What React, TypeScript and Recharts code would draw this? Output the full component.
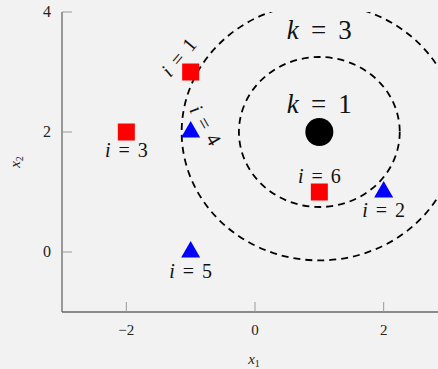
import React from 'react';
import {
  ComposedChart, Scatter, XAxis, YAxis, ReferenceArea,
} from 'recharts';

// class A (red squares) and class B (blue triangles)
const redX = [-1, -2, 1];
const redY = [3, 2, 1];
const redIdx = [1, 3, 6];

const blueX = [-1, -1, 2];
const blueY = [2, 0, 1];
const blueIdx = [4, 5, 2];

const centerX = [1];
const centerY = [2];

const radii = [1.25, 2.14];
const kValues = [1, 3];

const xDomain = [-3, 3];
const yDomain = [-1, 4];
const xTicks = [-2, 0, 2];
const yTicks = [0, 2, 4];

const redData = redX.map((x, i) => ({ x, y: redY[i], idx: redIdx[i] }));
const blueData = blueX.map((x, i) => ({ x, y: blueY[i], idx: blueIdx[i] }));
const centerData = centerX.map((x, i) => ({ x, y: centerY[i] }));

const FONT = '"Liberation Serif", "DejaVu Serif", serif';

// where each "i = n" label sits relative to its marker
const labelPos: Record<number, { dx: number; dy: number; rot: number }> = {
  1: { dx: -12, dy: -15, rot: -50 },
  2: { dx: 0, dy: 18, rot: 0 },
  3: { dx: 0, dy: 18, rot: 0 },
  4: { dx: 15, dy: -7, rot: 60 },
  5: { dx: 0, dy: 19, rot: 0 },
  6: { dx: 0, dy: -16, rot: 0 },
};

const MathEq = ({ x, y, v, sym, size, gap, rot = 0 }: any) => (
  <text
    x={x}
    y={y}
    textAnchor="middle"
    dominantBaseline="central"
    fontFamily={FONT}
    style={{ fontFamily: FONT, fontSize: size }}
    fill="#111"
    transform={rot ? `rotate(${rot} ${x} ${y})` : undefined}
  >
    <tspan style={{ fontStyle: 'italic' }}>{sym}</tspan>
    <tspan dx={size * gap}>=</tspan>
    <tspan dx={size * gap}>{v}</tspan>
  </text>
);

const IdxLabel = ({ cx, cy, idx }: any) => {
  const p = labelPos[idx];
  return <MathEq x={cx + p.dx} y={cy + p.dy} v={idx} sym="i" size={20} gap={0.4} rot={p.rot} />;
};

const SquareShape = (props: any) => {
  const { cx, cy, payload } = props;
  const s = 17;
  return (
    <g>
      <rect x={cx - s / 2} y={cy - s / 2} width={s} height={s} fill="#ff0000" />
      <IdxLabel cx={cx} cy={cy} idx={payload.idx} />
    </g>
  );
};

const TriangleShape = (props: any) => {
  const { cx, cy, payload } = props;
  const r = 11;
  const pts = `${cx},${cy - r} ${cx - r * 0.866},${cy + r / 2} ${cx + r * 0.866},${cy + r / 2}`;
  return (
    <g>
      <polygon points={pts} fill="#0000ff" />
      <IdxLabel cx={cx} cy={cy} idx={payload.idx} />
    </g>
  );
};

const CenterShape = (props: any) => {
  const { cx, cy } = props;
  return (
    <g>
      <circle cx={cx} cy={cy} r={14} fill="#000" />
      <MathEq x={cx} y={cy - 28} v={kValues[0]} sym="k" size={27} gap={0.45} />
      <MathEq x={cx} y={cy - 102} v={kValues[1]} sym="k" size={27} gap={0.45} />
    </g>
  );
};

// full plot rectangle, used only as a clip region for the circles
const PlotClip = (props: any) => {
  const { x, y, width, height } = props;
  return (
    <defs>
      <clipPath id="plot-clip">
        <rect x={x} y={y} width={width} height={height} />
      </clipPath>
    </defs>
  );
};

const DashedCircle = (props: any) => {
  const { x, y, width, height } = props;
  return (
    <ellipse
      cx={x + width / 2}
      cy={y + height / 2}
      rx={Math.abs(width) / 2}
      ry={Math.abs(height) / 2}
      fill="none"
      stroke="#000"
      strokeWidth={1.8}
      strokeDasharray="7 5"
      clipPath="url(#plot-clip)"
    />
  );
};

const BottomTick = ({ x, y, payload }: any) => (
  <g>
    <line x1={x} x2={x} y1={y} y2={y - 10} stroke="#999" strokeWidth={1} />
    <text x={x} y={y + 23} textAnchor="middle" fontFamily={FONT} style={{ fontFamily: FONT, fontSize: 15 }} fill="#222">
      {payload.value < 0 ? `\u2212${Math.abs(payload.value)}` : payload.value}
    </text>
  </g>
);

const TopTick = ({ x, y }: any) => (
  <line x1={x} x2={x} y1={y} y2={y + 10} stroke="#999" strokeWidth={1} />
);

const LeftTick = ({ x, y, payload }: any) => (
  <g>
    <line x1={x} x2={x + 10} y1={y} y2={y} stroke="#999" strokeWidth={1} />
    <text x={x - 11} y={y + 5} textAnchor="end" fontFamily={FONT} style={{ fontFamily: FONT, fontSize: 16 }} fill="#222">
      {payload.value}
    </text>
  </g>
);

const RightTick = ({ x, y }: any) => (
  <line x1={x} x2={x - 10} y1={y} y2={y} stroke="#999" strokeWidth={1} />
);

export default function App() {
  return (
    <div
      style={{
        position: 'absolute', left: 0, top: 0, width: 438, height: 369,
        overflow: 'hidden', background: '#f2f2f2',
      }}
    >
      <ComposedChart width={448} height={369} margin={{ top: 12, right: 0, bottom: 0, left: 0 }}>
        <XAxis
          xAxisId="b" type="number" dataKey="x" domain={xDomain} ticks={xTicks}
          allowDataOverflow height={57} tickSize={0} tickMargin={0}
          axisLine={{ stroke: '#666', strokeWidth: 1.3 }} tickLine={false} tick={<BottomTick />}
        />
        <XAxis
          xAxisId="t" orientation="top" type="number" dataKey="x" domain={xDomain} ticks={xTicks}
          allowDataOverflow height={0} tickSize={0} tickMargin={0}
          axisLine={{ stroke: '#000', strokeWidth: 1.3 }} tickLine={false} tick={<TopTick />}
        />
        <YAxis
          yAxisId="l" type="number" dataKey="y" domain={yDomain} ticks={yTicks}
          allowDataOverflow width={62} tickSize={0} tickMargin={0}
          axisLine={{ stroke: '#666', strokeWidth: 1.3 }} tickLine={false} tick={<LeftTick />}
        />
        <YAxis
          yAxisId="r" orientation="right" type="number" dataKey="y" domain={yDomain} ticks={yTicks}
          allowDataOverflow width={0} tickSize={0} tickMargin={0}
          axisLine={{ stroke: '#000', strokeWidth: 1.3 }} tickLine={false} tick={<RightTick />}
        />
        <ReferenceArea
          xAxisId="b" yAxisId="l"
          x1={xDomain[0]} x2={xDomain[1]} y1={yDomain[0]} y2={yDomain[1]}
          ifOverflow="visible"
          shape={<PlotClip />}
        />
        {radii.map((r, i) => (
          <ReferenceArea
            key={`c${i}`}
            xAxisId="b" yAxisId="l"
            x1={centerX[0] - r} x2={centerX[0] + r}
            y1={centerY[0] - r} y2={centerY[0] + r}
            ifOverflow="visible"
            shape={<DashedCircle />}
          />
        ))}
        <Scatter xAxisId="b" yAxisId="l" data={centerData} shape={<CenterShape />} isAnimationActive={false} />
        <Scatter xAxisId="b" yAxisId="l" data={redData} shape={<SquareShape />} isAnimationActive={false} />
        <Scatter xAxisId="b" yAxisId="l" data={blueData} shape={<TriangleShape />} isAnimationActive={false} />
      </ComposedChart>
      <svg width={438} height={369} style={{ position: 'absolute', left: 0, top: 0, pointerEvents: 'none' }}>
        <text x={254} y={364} textAnchor="middle" fontFamily={FONT} style={{ fontFamily: FONT, fontSize: 15 }} fill="#222">
          <tspan style={{ fontStyle: 'italic' }}>x</tspan>
          <tspan style={{ fontSize: 10 }} dy={3}>1</tspan>
        </text>
        <text
          x={20} y={162} textAnchor="middle" fontFamily={FONT} style={{ fontFamily: FONT, fontSize: 15 }} fill="#222"
          transform="rotate(-90 20 162)"
        >
          <tspan style={{ fontStyle: 'italic' }}>x</tspan>
          <tspan style={{ fontSize: 10 }} dy={3}>2</tspan>
        </text>
      </svg>
    </div>
  );
}
